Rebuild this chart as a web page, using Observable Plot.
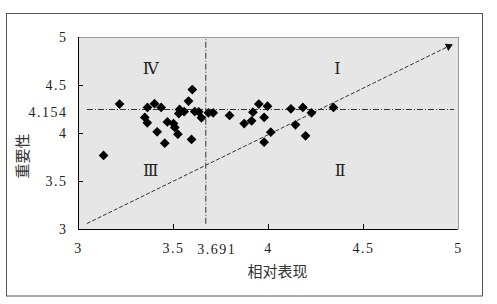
<!DOCTYPE html>
<html><head><meta charset="utf-8">
<script src="https://cdn.jsdelivr.net/npm/d3@7"></script>
<script src="https://cdn.jsdelivr.net/npm/@observablehq/plot@0.6"></script>
<style>
body{margin:0;background:#fff}
</style>
</head><body><div id="chart"></div>
<script>
// Relative performance (x) and importance (y) of each item
const perf = [3.132,3.216,3.363,3.349,3.362,3.400,3.435,3.414,3.454,3.468,3.500,3.507,3.523,3.532,3.528,3.556,3.579,3.599,3.595,3.612,3.633,3.647,3.684,3.709,3.795,3.872,3.911,3.918,3.949,3.995,3.977,3.977,4.012,4.118,4.142,4.181,4.226,4.195,4.342];
const importance = [3.771,4.307,4.272,4.167,4.111,4.310,4.271,4.017,3.899,4.120,4.104,4.063,3.993,4.250,4.208,4.229,4.338,4.458,3.938,4.229,4.226,4.163,4.215,4.215,4.188,4.104,4.132,4.222,4.306,4.285,4.167,3.910,4.014,4.257,4.090,4.271,4.215,3.976,4.271];

const xTicks = [3, 3.5, 4, 4.5, 5];
const yTicks = [3, 3.5, 4, 4.5, 5];
const meanLabelX = "3.691";
const meanLabelY = "4.154";
const meanX = 3.691, meanY = 4.154;
// quadrant divider lines as drawn in the picture
const dividerX = 3.67, dividerY = 4.25;
const dividerSpan = [3.047, 4.98];
// diagonal reference arrow
const diagFrom = [3.044, 3.062];
const diagTo = [4.97, 4.93];

const quadrantNames = ["Ⅰ", "Ⅱ", "Ⅲ", "Ⅳ"];
const quadrantX = [4.363, 4.377, 3.38, 3.38];
const quadrantY = [4.67, 3.61, 3.61, 4.67];

const xTitle = "相对表现";
const yTitle = "重要性";

const points = perf.map((x, i) => ({x, y: importance[i]}));
const quadrants = quadrantNames.map((name, i) => ({name, x: quadrantX[i], y: quadrantY[i]}));
const innerX = xTicks.filter(t => t > 3 && t < 5);
const innerY = yTicks.filter(t => t > 3 && t < 5);
const headBack = 0.022;
const slope = (diagTo[1] - diagFrom[1]) / (diagTo[0] - diagFrom[0]);

const serif = '"Liberation Serif", "DejaVu Serif", serif';
const cjk = '"Noto Sans CJK SC", sans-serif';

const chart = Plot.plot({
  width: 497, height: 304,
  marginLeft: 78, marginRight: 39, marginTop: 37, marginBottom: 75,
  x: {domain: [3, 5]},
  y: {domain: [3, 5]},
  style: {fontFamily: serif, fontSize: "14px", color: "#222", background: "#fff"},
  marks: [
    Plot.frame({fill: "#e6e6e6", stroke: null}),
    Plot.ruleY([5], {stroke: "#9c9c9c"}),
    Plot.ruleX([5], {stroke: "#9c9c9c"}),
    Plot.link([0], {x1: diagFrom[0], y1: diagFrom[1], x2: diagTo[0], y2: diagTo[1], stroke: "#333", strokeDasharray: "4,2", strokeWidth: 1}),
    Plot.dot([0], {x: diagTo[0] - headBack, y: diagTo[1] - headBack * slope, symbol: "triangle", r: 3, rotate: 64, fill: "#111", stroke: null}),
    Plot.ruleX([dividerX], {y1: dividerSpan[0] + 0.008, y2: dividerSpan[1], stroke: "#333", strokeDasharray: "6,2,1,2"}),
    Plot.ruleY([dividerY], {x1: dividerSpan[0], x2: dividerSpan[1], stroke: "#333", strokeDasharray: "6,2,1,2"}),
    Plot.dot(points, {x: "x", y: "y", symbol: "diamond2", r: 4.4, fill: "#000", stroke: null}),
    Plot.text(quadrants, {x: "x", y: "y", text: "name", fontSize: 16, fill: "#222"}),
    Plot.ruleX(innerX, {y1: 3, y2: 3.052, stroke: "#000"}),
    Plot.ruleY(innerY, {x1: 3, x2: 3.026, stroke: "#000"}),
    Plot.ruleY([3], {stroke: "#000"}),
    Plot.ruleX([3], {stroke: "#000"}),
    Plot.axisX({ticks: xTicks, tickSize: 0, tickPadding: 14, tickFormat: d => String(d), label: null, fontSize: 14}),
    Plot.axisY({ticks: yTicks, tickSize: 0, tickPadding: 11, tickFormat: d => String(d), label: null, fontSize: 14}),
    Plot.text([meanLabelX], {x: meanX, y: 3, dx: 7, dy: 20, fontSize: 14}),
    Plot.text([meanLabelY], {x: 3, y: meanY, dx: -11, dy: -6, textAnchor: "end", fontSize: 14}),
    Plot.text([xTitle], {frameAnchor: "bottom", dx: 9, dy: 47, fontFamily: cjk, fontSize: 15, fill: "#333"}),
    Plot.text([yTitle], {frameAnchor: "left", dx: -55, dy: 45, rotate: -90, fontFamily: cjk, fontSize: 15, fill: "#333"})
  ]
});

d3.select(chart).selectAll("text")
  .filter(function() { return /^[0-9.]+$/.test(this.textContent); })
  .style("letter-spacing", "1.5px");

d3.select(chart).append("rect")
  .attr("x", 6.5).attr("y", 13.5).attr("width", 476).attr("height", 282.5)
  .attr("fill", "none").attr("stroke", "#555");

document.getElementById("chart").appendChild(chart);
</script>
</body></html>
